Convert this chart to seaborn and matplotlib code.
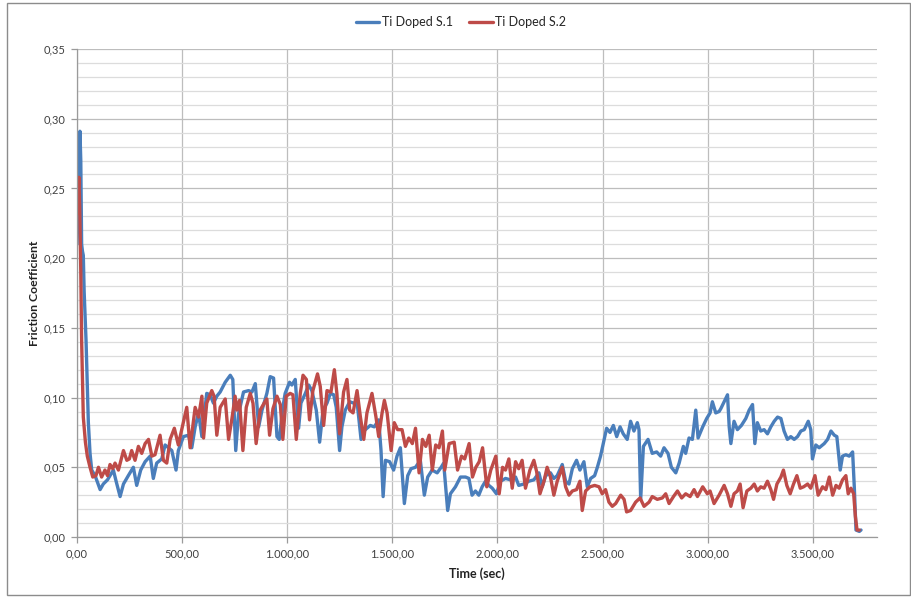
import numpy as np
import pandas as pd
import matplotlib
matplotlib.use("Agg")
import matplotlib.pyplot as plt
from matplotlib.ticker import FuncFormatter, MultipleLocator
from matplotlib.patches import Rectangle
import seaborn as sns

# --- measured friction coefficient vs. time -------------------------------
s1_time = [0, 5, 10, 14, 18, 22, 26, 30, 34, 43, 54, 62, 70, 86, 110, 125, 145, 157, 173, 186,
           205, 221, 244, 268, 284, 303, 324, 348, 363, 379, 403, 419, 435, 451, 471, 482, 506,
           530, 546, 562, 578, 594, 617, 633, 649, 665, 681, 705, 729, 741, 755, 768, 792, 816,
           832, 848, 864, 880, 903, 919, 935, 951, 962, 979, 990, 1011, 1022, 1038, 1054, 1065,
           1086, 1102, 1117, 1138, 1154, 1170, 1189, 1205, 1221, 1233, 1249, 1260, 1276, 1297,
           1316, 1332, 1351, 1364, 1379, 1395, 1414, 1435, 1446, 1456, 1467, 1487, 1506, 1522,
           1538, 1557, 1573, 1589, 1610, 1633, 1652, 1668, 1689, 1713, 1732, 1744, 1763, 1776,
           1800, 1824, 1848, 1864, 1879, 1895, 1911, 1927, 1943, 1959, 1975, 1995, 2014, 2038,
           2062, 2086, 2101, 2125, 2149, 2173, 2197, 2213, 2229, 2252, 2268, 2284, 2308, 2324,
           2340, 2356, 2376, 2392, 2411, 2427, 2443, 2462, 2475, 2490, 2503, 2519, 2535, 2551,
           2567, 2583, 2598, 2617, 2633, 2649, 2665, 2673, 2681, 2694, 2716, 2736, 2757, 2776,
           2792, 2811, 2827, 2848, 2864, 2884, 2895, 2911, 2927, 2943, 2954, 2976, 2995, 3011,
           3022, 3038, 3054, 3062, 3078, 3094, 3102, 3110, 3125, 3141, 3160, 3181, 3197, 3213,
           3224, 3236, 3252, 3268, 3284, 3300, 3316, 3332, 3348, 3363, 3379, 3395, 3411, 3427,
           3443, 3459, 3478, 3490, 3498, 3514, 3530, 3554, 3570, 3586, 3602, 3614, 3630, 3641,
           3657, 3673, 3689, 3697, 3705, 3721, 3729]
s1_mu = [0.210, 0.235, 0.275, 0.291, 0.270, 0.210, 0.205, 0.202, 0.176, 0.141, 0.082, 0.060,
         0.048, 0.044, 0.034, 0.038, 0.041, 0.044, 0.048, 0.040, 0.029, 0.038, 0.044, 0.050,
         0.037, 0.048, 0.054, 0.058, 0.042, 0.053, 0.056, 0.066, 0.064, 0.062, 0.048, 0.062,
         0.072, 0.073, 0.064, 0.079, 0.089, 0.072, 0.103, 0.102, 0.096, 0.101, 0.104, 0.111,
         0.116, 0.113, 0.062, 0.088, 0.104, 0.105, 0.104, 0.110, 0.079, 0.091, 0.103, 0.115,
         0.114, 0.072, 0.070, 0.093, 0.103, 0.111, 0.109, 0.113, 0.078, 0.096, 0.103, 0.109,
         0.105, 0.091, 0.068, 0.091, 0.096, 0.103, 0.102, 0.093, 0.062, 0.079, 0.091, 0.097,
         0.096, 0.097, 0.070, 0.076, 0.078, 0.080, 0.079, 0.084, 0.062, 0.029, 0.055, 0.054,
         0.048, 0.058, 0.064, 0.024, 0.044, 0.049, 0.050, 0.055, 0.030, 0.043, 0.048, 0.046,
         0.050, 0.053, 0.019, 0.031, 0.036, 0.043, 0.043, 0.042, 0.030, 0.033, 0.030, 0.036,
         0.040, 0.037, 0.035, 0.031, 0.040, 0.042, 0.041, 0.043, 0.037, 0.038, 0.040, 0.041,
         0.046, 0.036, 0.044, 0.046, 0.042, 0.044, 0.052, 0.040, 0.038, 0.049, 0.055, 0.048,
         0.054, 0.036, 0.042, 0.044, 0.050, 0.058, 0.067, 0.078, 0.075, 0.080, 0.072, 0.079,
         0.074, 0.070, 0.083, 0.076, 0.082, 0.077, 0.027, 0.065, 0.070, 0.060, 0.061, 0.058,
         0.064, 0.060, 0.050, 0.046, 0.053, 0.065, 0.060, 0.071, 0.070, 0.091, 0.071, 0.079,
         0.085, 0.089, 0.097, 0.089, 0.090, 0.092, 0.097, 0.102, 0.079, 0.067, 0.083, 0.077,
         0.080, 0.085, 0.091, 0.095, 0.067, 0.082, 0.076, 0.077, 0.074, 0.079, 0.083, 0.086,
         0.085, 0.076, 0.070, 0.072, 0.070, 0.072, 0.076, 0.077, 0.083, 0.077, 0.056, 0.066,
         0.064, 0.067, 0.070, 0.076, 0.073, 0.072, 0.048, 0.058, 0.059, 0.058, 0.061, 0.036,
         0.005, 0.004, 0.005]

s2_time = [0, 5, 9, 13, 18, 22, 30, 40, 49, 62, 75, 90, 102, 117, 133, 145, 157, 170, 181, 197,
           221, 237, 249, 260, 276, 292, 308, 324, 340, 356, 371, 395, 411, 427, 443, 463, 482,
           498, 522, 538, 562, 578, 594, 602, 617, 641, 652, 665, 681, 705, 721, 737, 752, 760,
           773, 789, 805, 824, 837, 852, 871, 890, 903, 916, 932, 951, 967, 979, 995, 1014, 1027,
           1043, 1062, 1075, 1091, 1106, 1122, 1144, 1157, 1173, 1189, 1208, 1224, 1236, 1249,
           1268, 1284, 1297, 1313, 1332, 1348, 1364, 1379, 1403, 1422, 1435, 1451, 1462, 1475,
           1494, 1509, 1525, 1546, 1562, 1578, 1595, 1610, 1627, 1643, 1659, 1675, 1690, 1706,
           1722, 1738, 1749, 1770, 1794, 1810, 1829, 1844, 1865, 1881, 1897, 1913, 1929, 1949,
           1968, 1992, 2008, 2024, 2038, 2054, 2070, 2086, 2101, 2117, 2133, 2154, 2173, 2186,
           2202, 2221, 2236, 2252, 2268, 2284, 2308, 2324, 2340, 2356, 2376, 2392, 2403, 2419,
           2440, 2462, 2483, 2498, 2514, 2530, 2546, 2562, 2586, 2602, 2614, 2633, 2657, 2678,
           2697, 2721, 2736, 2760, 2784, 2800, 2816, 2837, 2856, 2876, 2895, 2916, 2935, 2951,
           2976, 2998, 3011, 3030, 3054, 3078, 3094, 3110, 3125, 3141, 3154, 3168, 3186, 3205,
           3221, 3236, 3252, 3268, 3284, 3300, 3313, 3329, 3348, 3360, 3376, 3392, 3408, 3424,
           3440, 3456, 3475, 3490, 3510, 3525, 3546, 3562, 3578, 3594, 3610, 3625, 3641, 3657,
           3668, 3681, 3694, 3702, 3710, 3721]
s2_mu = [0.232, 0.245, 0.258, 0.235, 0.190, 0.141, 0.086, 0.068, 0.058, 0.050, 0.043, 0.044,
         0.050, 0.043, 0.048, 0.044, 0.052, 0.049, 0.053, 0.048, 0.062, 0.055, 0.056, 0.062,
         0.055, 0.065, 0.060, 0.067, 0.070, 0.058, 0.059, 0.073, 0.055, 0.053, 0.070, 0.078,
         0.066, 0.077, 0.093, 0.064, 0.093, 0.086, 0.101, 0.071, 0.096, 0.105, 0.101, 0.073,
         0.093, 0.099, 0.070, 0.085, 0.101, 0.091, 0.098, 0.062, 0.093, 0.103, 0.096, 0.067,
         0.091, 0.096, 0.099, 0.073, 0.092, 0.101, 0.095, 0.070, 0.101, 0.103, 0.102, 0.070,
         0.103, 0.116, 0.113, 0.084, 0.105, 0.117, 0.108, 0.080, 0.105, 0.104, 0.120, 0.103,
         0.074, 0.104, 0.113, 0.091, 0.089, 0.105, 0.086, 0.070, 0.089, 0.103, 0.086, 0.072,
         0.089, 0.098, 0.089, 0.062, 0.082, 0.077, 0.077, 0.065, 0.071, 0.067, 0.078, 0.046,
         0.070, 0.065, 0.073, 0.048, 0.066, 0.064, 0.076, 0.048, 0.067, 0.068, 0.048, 0.058,
         0.056, 0.067, 0.043, 0.050, 0.054, 0.064, 0.036, 0.048, 0.058, 0.031, 0.050, 0.048,
         0.056, 0.035, 0.054, 0.049, 0.055, 0.035, 0.048, 0.055, 0.047, 0.031, 0.040, 0.050,
         0.043, 0.030, 0.040, 0.050, 0.036, 0.030, 0.033, 0.034, 0.040, 0.019, 0.033, 0.036,
         0.037, 0.036, 0.031, 0.034, 0.025, 0.022, 0.024, 0.030, 0.027, 0.018, 0.019, 0.025,
         0.028, 0.022, 0.025, 0.029, 0.027, 0.028, 0.031, 0.024, 0.029, 0.033, 0.028, 0.031,
         0.029, 0.034, 0.029, 0.036, 0.031, 0.033, 0.024, 0.030, 0.037, 0.031, 0.022, 0.031,
         0.033, 0.038, 0.021, 0.033, 0.035, 0.038, 0.033, 0.036, 0.035, 0.040, 0.034, 0.027,
         0.038, 0.043, 0.048, 0.037, 0.031, 0.038, 0.044, 0.035, 0.036, 0.038, 0.035, 0.044,
         0.030, 0.036, 0.034, 0.043, 0.030, 0.037, 0.035, 0.041, 0.044, 0.031, 0.035, 0.031,
         0.015, 0.005, 0.005]

series_names = ["Ti Doped S.1", "Ti Doped S.2"]
series_colors = ["#4A7EBB", "#BE4B48"]
x_label = "Time (sec)"
y_label = "Friction Coefficient"

df = pd.concat([
    pd.DataFrame({"time": s1_time, "mu": s1_mu, "sample": series_names[0]}),
    pd.DataFrame({"time": s2_time, "mu": s2_mu, "sample": series_names[1]}),
], ignore_index=True)

# --- styling -------------------------------------------------------------
sns.set_theme(style="white")
plt.rcParams["font.family"] = ["Lato", "DejaVu Sans"]

fig = plt.figure(figsize=(9.12, 5.97), dpi=100)
ax = fig.add_axes([77 / 912, 1 - 537 / 597, 800 / 912, 488 / 597])

sns.lineplot(data=df, x="time", y="mu", hue="sample", hue_order=series_names,
             palette=series_colors, estimator=None, sort=False, linewidth=2.4,
             ax=ax, legend=True)

ax.set_xlim(0, 3805)
ax.set_ylim(0, 0.35)
ax.xaxis.set_major_locator(MultipleLocator(500))
ax.yaxis.set_major_locator(MultipleLocator(0.05))
ax.yaxis.set_minor_locator(MultipleLocator(0.01))


def euro_fmt(v, _pos):
    s = f"{v:,.2f}"
    return s.replace(",", "X").replace(".", ",").replace("X", ".")


ax.xaxis.set_major_formatter(FuncFormatter(euro_fmt))
ax.yaxis.set_major_formatter(FuncFormatter(euro_fmt))

ax.grid(True, which="major", axis="both", color="#BDBDBD", linewidth=0.9)
ax.grid(True, which="minor", axis="y", color="#DCDCDC", linewidth=0.9)
ax.set_axisbelow(True)

for side in ["top", "right"]:
    ax.spines[side].set_visible(False)
for side in ["left", "bottom"]:
    ax.spines[side].set_color("#9A9A9A")
    ax.spines[side].set_linewidth(0.9)

ax.tick_params(axis="both", which="major", direction="out", length=4, width=0.9,
               color="#9A9A9A", labelsize=8, labelcolor="#404040", pad=4,
               left=True, bottom=True)
ax.tick_params(axis="y", which="minor", length=0, left=False)

ax.set_xlabel(x_label, fontsize=9, fontweight="bold", color="#222222", labelpad=6)
ax.set_ylabel(y_label, fontsize=8.8, fontweight="bold", color="#222222", labelpad=3)

handles, labels = ax.get_legend_handles_labels()
ax.legend(handles, labels, loc="center", bbox_to_anchor=(461 / 912, 1 - 22 / 597),
          bbox_transform=fig.transFigure, ncol=2, frameon=False, fontsize=9,
          handlelength=1.9, handletextpad=0.2, columnspacing=1.3)

# chart-area border
fig.patches.append(Rectangle((7 / 912, 2 / 597), 903 / 912, 592 / 597,
                             transform=fig.transFigure, fill=False,
                             edgecolor="#8C8C8C", linewidth=1.0))

fig.savefig("out.png", dpi=100)
